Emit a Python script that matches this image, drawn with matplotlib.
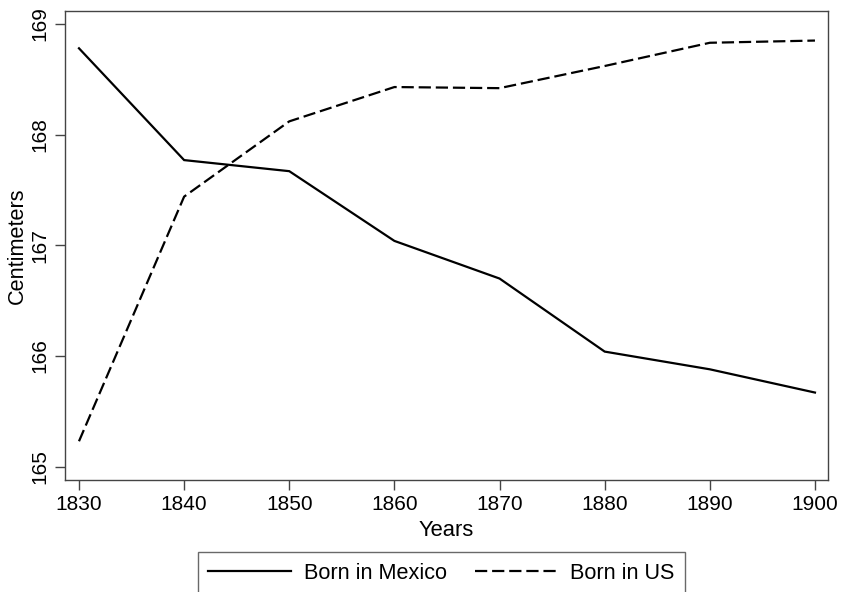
import matplotlib
matplotlib.use("Agg")
import matplotlib.pyplot as plt

plt.rcParams['font.family'] = ['Liberation Sans', 'DejaVu Sans']

# data
years = [1830, 1840, 1850, 1860, 1870, 1880, 1890, 1900]
born_mexico = [168.78, 167.77, 167.67, 167.04, 166.70, 166.04, 165.88, 165.67]
born_us = [165.23, 167.44, 168.12, 168.43, 168.42, 168.62, 168.83, 168.85]
xticks = [1830, 1840, 1850, 1860, 1870, 1880, 1890, 1900]
yticks = [165, 166, 167, 168, 169]

fig = plt.figure(figsize=(8.41, 5.92), dpi=100)
ax = fig.add_axes([65 / 841, 1 - 480 / 592, (828 - 65) / 841, (480 - 11) / 592])

ax.plot(years, born_mexico, color='black', lw=1.6, solid_joinstyle='miter',
        label='Born in Mexico')
ax.plot(years, born_us, color='black', lw=1.6, dashes=(5.5, 2.2),
        label='Born in US')

ax.set_xlim(1828.67, 1901.24)
ax.set_ylim(164.88, 169.117)
ax.set_xticks(xticks)
ax.set_yticks(yticks)
ax.set_yticklabels([str(v) for v in yticks], rotation=90, va='center')

for s in ax.spines.values():
    s.set_color('#444444')
    s.set_linewidth(1.0)
ax.tick_params(direction='out', length=7, width=1.0, color='#444444',
               labelsize=15, pad=4)

ax.set_xlabel('Years', fontsize=15.8, labelpad=4)
ax.set_ylabel('Centimeters', fontsize=15.6, labelpad=2)

leg = fig.legend(loc='upper center', bbox_to_anchor=(441.5 / 841, 40 / 592),
                 ncol=2, fontsize=15.6, frameon=True, fancybox=False,
                 handlelength=3.8, handletextpad=0.6, columnspacing=1.3,
                 borderpad=0.5, borderaxespad=0)
leg.get_frame().set_edgecolor('#444444')
leg.get_frame().set_linewidth(1.0)

fig.savefig('out.png', dpi=100)
